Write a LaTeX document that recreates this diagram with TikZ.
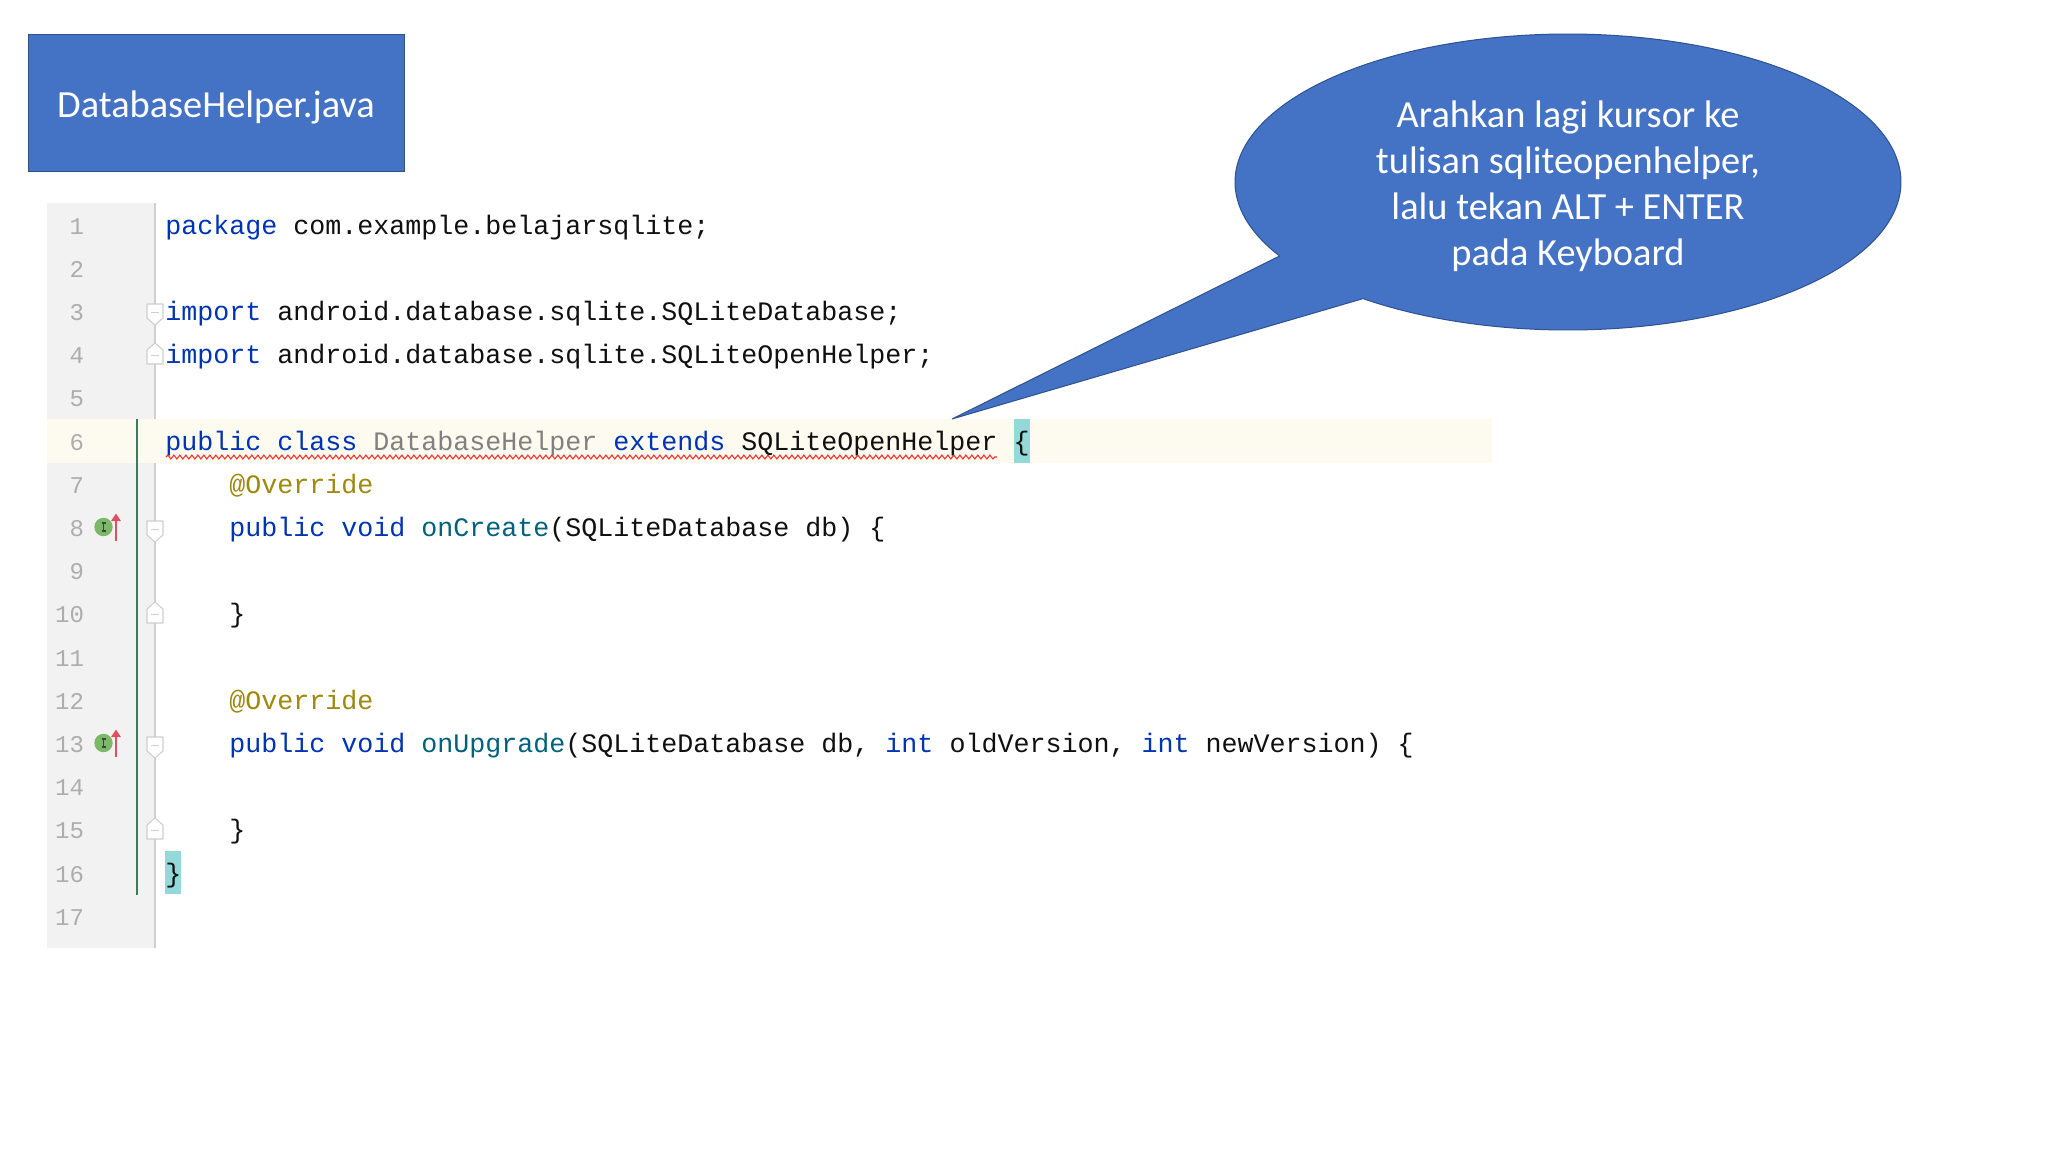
\documentclass[tikz,border=0pt]{standalone}
\usepackage{fontspec}
\usetikzlibrary{decorations.pathmorphing}
\setmainfont{Carlito}
\newfontfamily\codefont{Liberation Mono}
\definecolor{kw}{HTML}{0033B3}
\definecolor{fn}{HTML}{00627A}
\definecolor{ann}{HTML}{9E880D}
\definecolor{unused}{HTML}{808080}
\definecolor{ink}{HTML}{101010}
\definecolor{boxblue}{HTML}{4472C4}
\definecolor{boxedge}{HTML}{2F528F}
\definecolor{gutterbg}{HTML}{F2F2F3}
\definecolor{gutterline}{HTML}{CFCFCF}
\definecolor{linenum}{HTML}{ADADAD}
\definecolor{caretrow}{HTML}{FDFAF0}
\definecolor{bracehl}{HTML}{93D9D9}
\definecolor{vcs}{HTML}{3A7A5E}
\definecolor{implgreen}{HTML}{7CB76A}
\definecolor{impldark}{HTML}{3C463C}
\definecolor{arrowred}{HTML}{E05060}
\definecolor{squiggle}{HTML}{F03030}
\newcommand{\K}[1]{\textcolor{kw}{#1}}
\newcommand{\F}[1]{\textcolor{fn}{#1}}
\newcommand{\A}[1]{\textcolor{ann}{#1}}
\newcommand{\U}[1]{\textcolor{unused}{#1}}
\tikzset{
  code/.style={anchor=base west,inner sep=0pt,outer sep=0pt,text=ink,
    font=\codefont\fontsize{26.67}{30}\selectfont},
  lnum/.style={anchor=base east,inner sep=0pt,outer sep=0pt,text=linenum,
    font=\codefont\fontsize{24}{26}\selectfont},
  foldmark/.style={fill=white,draw=gutterline,line width=1.1pt,line join=round},
  folddash/.style={draw=gutterline,line width=1.1pt},
  implcircle/.style={fill=implgreen},
  implbar/.style={draw=impldark,line width=1.3pt},
  uparrow/.style={draw=arrowred,line width=1.6pt},
  titlebox/.style={fill=boxblue,draw=boxedge,line width=1pt,inner sep=0pt,
    minimum width=376pt,minimum height=137pt,text=white,
    font=\fontsize{38.4}{46}\selectfont},
  bubble/.style={fill=boxblue,draw=boxedge,line width=1pt,line join=miter},
  bubbletext/.style={text=white,align=center,inner sep=0pt,
    font=\fontsize{38.4}{46}\selectfont}
}
\newcommand{\FoldDown}[1]{%
  \draw[foldmark] (147,#1) -- (163,#1) -- (163,#1+14) -- (155,#1+21) -- (147,#1+14) -- cycle;
  \draw[folddash] (151,#1+8.5) -- (159,#1+8.5);}
\newcommand{\FoldUp}[1]{%
  \draw[foldmark] (147,#1) -- (163,#1) -- (163,#1-14) -- (155,#1-21) -- (147,#1-14) -- cycle;
  \draw[folddash] (151,#1-8.5) -- (159,#1-8.5);}
\newcommand{\ImplIcon}[1]{%
  \fill[implcircle] (103.5,#1) circle (9.2);
  \draw[implbar] (103.5,#1-4) -- (103.5,#1+4) (101.5,#1-4) -- (105.5,#1-4) (101.5,#1+4) -- (105.5,#1+4);
  \draw[uparrow] (116,#1+13.5) -- (116,#1-8);
  \fill[arrowred] (116,#1-13.5) -- (121,#1-6) -- (111,#1-6) -- cycle;}
\begin{document}
\begin{tikzpicture}[x=1pt,y=-1pt]
\useasboundingbox (0,0) rectangle (2048,1152);
\fill[white] (0,0) rectangle (2048,1152);
% gutter and caret row
\fill[gutterbg] (47,203) rectangle (155,948);
\fill[caretrow] (47,419) rectangle (1492,463);
\draw[gutterline,line width=1.2pt] (155,203) -- (155,948);
\fill[caretrow] (154.4,419) rectangle (156,463);
\draw[vcs,line width=1.4pt] (137,419) -- (137,895);
% brace highlights
\fill[bracehl] (1014,419) rectangle (1030,463);
\fill[bracehl] (165,851) rectangle (181,894);
% folds
\FoldDown{304}
\FoldUp{364}
\FoldDown{521}
\FoldUp{623}
\FoldDown{737}
\FoldUp{839}
% icons
\ImplIcon{527}
\ImplIcon{743}
% line numbers
\node[lnum] (n1) at (84,234) {1};
\node[lnum] (n2) at (84,277.2) {2};
\node[lnum] (n3) at (84,320.4) {3};
\node[lnum] (n4) at (84,363.6) {4};
\node[lnum] (n5) at (84,406.8) {5};
\node[lnum] (n6) at (84,450) {6};
\node[lnum] (n7) at (84,493.2) {7};
\node[lnum] (n8) at (84,536.4) {8};
\node[lnum] (n9) at (84,579.6) {9};
\node[lnum] (n10) at (84,622.8) {10};
\node[lnum] (n11) at (84,666) {11};
\node[lnum] (n12) at (84,709.2) {12};
\node[lnum] (n13) at (84,752.4) {13};
\node[lnum] (n14) at (84,795.6) {14};
\node[lnum] (n15) at (84,838.8) {15};
\node[lnum] (n16) at (84,882) {16};
\node[lnum] (n17) at (84,925.2) {17};
% code
\node[code] (c1) at (165.3,234) {\K{package} com.example.belajarsqlite;};
\node[code] (c3) at (165.3,320.4) {\K{import} android.database.sqlite.SQLiteDatabase;};
\node[code] (c4) at (165.3,363.6) {\K{import} android.database.sqlite.SQLiteOpenHelper;};
\node[code] (c6) at (165.3,450) {\K{public} \K{class} \U{DatabaseHelper} \K{extends} SQLiteOpenHelper \{};
\node[code] (c7) at (229.3,493.2) {\A{@Override}};
\node[code] (c8) at (229.3,536.4) {\K{public} \K{void} \F{onCreate}(SQLiteDatabase db) \{};
\node[code] (c10) at (229.3,622.8) {\}};
\node[code] (c12) at (229.3,709.2) {\A{@Override}};
\node[code] (c13) at (229.3,752.4) {\K{public} \K{void} \F{onUpgrade}(SQLiteDatabase db, \K{int} oldVersion, \K{int} newVersion) \{};
\node[code] (c15) at (229.3,838.8) {\}};
\node[code] (c16) at (165.3,882) {\}};
% error squiggle
\draw[squiggle,line width=1.1pt,decorate,decoration={snake,segment length=6pt,amplitude=1.9pt}] (166,457) -- (997,457);
% title
\node[titlebox] (title) at (216,103) {\raisebox{-14pt}[0pt][0pt]{DatabaseHelper.java}};
% callout
\draw[bubble] plot[smooth,domain=128:-210,samples=140] ({1568+333*cos(\x)},{182+148*sin(\x)}) -- (952,419) -- cycle;
\node[bubbletext] (say) at (1568,186) {Arahkan lagi kursor ke\\tulisan sqliteopenhelper,\\lalu tekan ALT + ENTER\\pada Keyboard};
\end{tikzpicture}
\end{document}
